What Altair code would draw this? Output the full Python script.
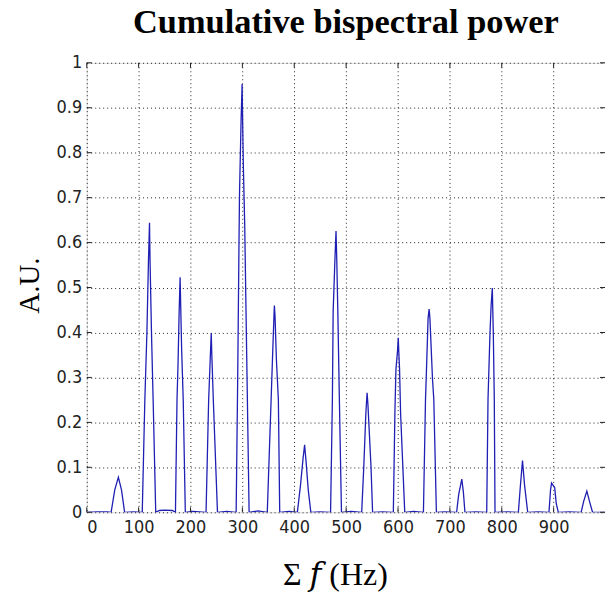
import altair as alt
import pandas as pd

# Cumulative bispectral power (A.U.) versus summed frequency (Hz)
freq_hz = [
    0, 20, 40, 47, 54, 61, 67, 73, 90,
    107, 112, 116, 119, 121, 122, 125, 128, 133, 140, 150, 165,
    171, 174, 176, 178, 180, 181, 183, 186, 190, 205,
    230, 235, 238, 240, 241, 244, 252, 270,
    288, 291, 293.5, 294.5, 297.5, 299.5, 300.5, 302, 304.5, 307, 309, 313, 330,
    348, 355.4, 358, 361, 361.7, 363, 365.6, 369.4, 372, 390,
    406, 412, 417, 420, 423, 427, 432, 450,
    470, 473.5, 475, 478.5, 480.5, 482, 484, 487, 491, 510,
    530, 534, 538, 540.4, 542, 548, 551, 570,
    591, 594, 596, 599, 600.5, 601.5, 603, 605, 613, 630,
    649, 653, 654.3, 658, 660, 661.5, 666.5, 669, 674, 690,
    713, 717, 723, 726, 729, 750,
    771, 773.5, 777.3, 779.5, 781.8, 782.5, 783.7, 785.6, 787, 810,
    832, 836, 840, 844, 850, 870,
    891, 894, 896, 899, 902, 905, 909, 930,
    953, 958, 964, 969, 975, 999,
]
power_au = [
    0, 0.001, 0.001, 0, 0.05, 0.078, 0.05, 0, 0.001,
    0, 0.25, 0.40, 0.56, 0.644, 0.56, 0.39, 0.25, 0, 0.004, 0.005, 0.004,
    0, 0.25, 0.33, 0.44, 0.523, 0.466, 0.36, 0.25, 0, 0.002,
    0, 0.25, 0.34, 0.399, 0.355, 0.25, 0, 0.002,
    0, 0.30, 0.60, 0.71, 0.87, 0.953, 0.87, 0.765, 0.64, 0.45, 0.30, 0, 0.003,
    0, 0.25, 0.34, 0.44, 0.46, 0.436, 0.34, 0.25, 0, 0.002,
    0, 0.06, 0.12, 0.15, 0.11, 0.05, 0, 0.001,
    0, 0.25, 0.447, 0.565, 0.626, 0.56, 0.447, 0.25, 0, 0.002,
    0, 0.10, 0.22, 0.266, 0.24, 0.10, 0, 0.001,
    0, 0.22, 0.318, 0.358, 0.388, 0.358, 0.318, 0.22, 0, 0.002,
    0, 0.251, 0.296, 0.432, 0.452, 0.432, 0.296, 0.251, 0, 0.001,
    0, 0.04, 0.074, 0.045, 0, 0.001,
    0, 0.251, 0.399, 0.46, 0.499, 0.46, 0.399, 0.251, 0, 0.001,
    0, 0.06, 0.115, 0.06, 0, 0.001,
    0, 0.05, 0.065, 0.06, 0.055, 0.02, 0, 0.001,
    0, 0.025, 0.047, 0.025, 0, 0,
]
x_ticks = [0, 100, 200, 300, 400, 500, 600, 700, 800, 900]
y_ticks = [0, 0.1, 0.2, 0.3, 0.4, 0.5, 0.6, 0.7, 0.8, 0.9, 1.0]

W, H = 520, 451
FRAME = "#222222"
LABEL_FONT = "Liberation Sans Narrow, DejaVu Sans Condensed, Liberation Sans"
SERIF = "Liberation Serif, DejaVu Serif"

df = pd.DataFrame({"f": freq_hz, "p": power_au})
xt = pd.DataFrame({"f": x_ticks})
yt = pd.DataFrame({"p": y_ticks})

xscale = alt.Scale(domain=[0, 999], nice=False, zero=False)
yscale = alt.Scale(domain=[0, 1], nice=False)

grid_common = dict(grid=True, gridDash=[1, 3], gridColor="#111111", gridOpacity=0.9,
                   gridWidth=1, ticks=False, domain=False, labelFont=LABEL_FONT,
                   labelFontSize=18, labelColor="#222222")

x_axis = alt.Axis(
    values=x_ticks, labelPadding=6, title="Σ 𝑓 (Hz)", titleFont=SERIF,
    titleFontSize=32, titleFontWeight="normal", titleColor="#000000",
    titleX=249, titleY=72, titleBaseline="alphabetic", titleAlign="center",
    **grid_common)
y_axis = alt.Axis(
    values=y_ticks, format=".1~f", labelPadding=5, title="A.U.", titleFont=SERIF,
    titleFontSize=29, titleFontWeight="normal", titleColor="#000000",
    titleAngle=270, titleX=-57, titleY=223, titleBaseline="middle",
    titleAlign="center", **grid_common)

line = alt.Chart(df).mark_line(color="#1f1fb4", strokeWidth=1.3, clip=True).encode(
    x=alt.X("f:Q", scale=xscale, axis=x_axis),
    y=alt.Y("p:Q", scale=yscale, axis=y_axis),
)

top_ticks = alt.Chart(xt).mark_rule(color=FRAME).encode(
    x=alt.X("f:Q", scale=xscale, axis=x_axis), y=alt.value(0), y2=alt.value(5))
bottom_ticks = alt.Chart(xt).mark_rule(color=FRAME).encode(
    x=alt.X("f:Q", scale=xscale, axis=x_axis), y=alt.value(H - 5), y2=alt.value(H))
left_ticks = alt.Chart(yt).mark_rule(color=FRAME).encode(
    y=alt.Y("p:Q", scale=yscale, axis=y_axis), x=alt.value(0), x2=alt.value(5))
right_ticks = alt.Chart(yt).mark_rule(color=FRAME).encode(
    y=alt.Y("p:Q", scale=yscale, axis=y_axis), x=alt.value(W - 5), x2=alt.value(W))

chart = alt.layer(line, top_ticks, bottom_ticks, left_ticks, right_ticks).properties(
    width=W, height=H,
    title=alt.TitleParams("Cumulative bispectral power", font=SERIF, fontSize=34.5,
                          fontWeight="bold", anchor="middle", baseline="alphabetic",
                          offset=24, dy=38, color="#000000"),
    autosize=alt.AutoSizeParams(type="none"),
    padding={"left": 79, "top": 54, "right": 0, "bottom": 80},
).configure_view(stroke=FRAME, strokeWidth=1).configure(background="white")

chart.save("out.html", embed_options={"renderer": "svg", "actions": False})
